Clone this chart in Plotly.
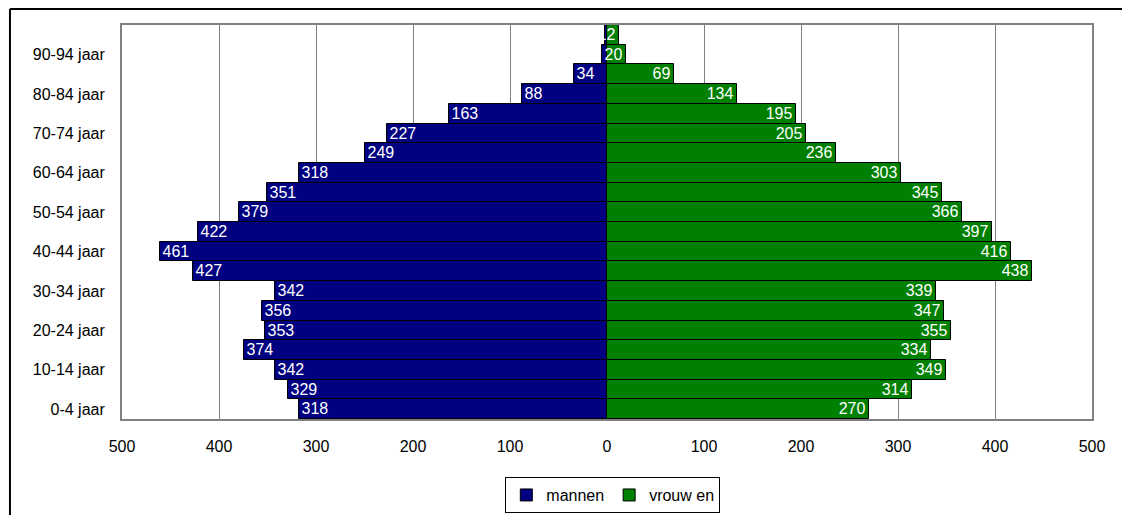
import plotly.graph_objects as go

# Age groups, bottom to top
age_groups = ["0-4 jaar", "5-9 jaar", "10-14 jaar", "15-19 jaar", "20-24 jaar",
              "25-29 jaar", "30-34 jaar", "35-39 jaar", "40-44 jaar", "45-49 jaar",
              "50-54 jaar", "55-59 jaar", "60-64 jaar", "65-69 jaar", "70-74 jaar",
              "75-79 jaar", "80-84 jaar", "85-89 jaar", "90-94 jaar", "95+ jaar"]
shown_groups = ["0-4 jaar", "10-14 jaar", "20-24 jaar", "30-34 jaar", "40-44 jaar",
                "50-54 jaar", "60-64 jaar", "70-74 jaar", "80-84 jaar", "90-94 jaar"]

mannen = [318, 329, 342, 374, 353, 356, 342, 427, 461, 422,
          379, 351, 318, 249, 227, 163, 88, 34, 5, 2]
vrouwen = [270, 314, 349, 334, 355, 347, 339, 438, 416, 397,
           366, 345, 303, 236, 205, 195, 134, 69, 20, 12]

x_ticks = [-500, -400, -300, -200, -100, 0, 100, 200, 300, 400, 500]
x_tick_labels = ["500", "400", "300", "200", "100", "0", "100", "200", "300", "400", "500"]

FONT = "Liberation Sans, Arial, sans-serif"
LABEL_SIZE = 16

# bars too thin to carry a readable label get none
men_text = [str(v) if v >= 10 else "" for v in mannen]
women_text = [str(v) for v in vrouwen]

fig = go.Figure()
fig.add_trace(go.Bar(
    y=age_groups, x=[-v for v in mannen], orientation="h", name="mannen",
    marker=dict(color="#000080", line=dict(color="black", width=1)),
    text=men_text, textposition="inside", insidetextanchor="end", textangle=0,
    textfont=dict(color="white", size=LABEL_SIZE, family=FONT), cliponaxis=False,
    hoverinfo="skip",
))
fig.add_trace(go.Bar(
    y=age_groups, x=vrouwen, orientation="h", name="vrouw en",
    marker=dict(color="#008000", line=dict(color="black", width=1)),
    text=women_text, textposition="inside", insidetextanchor="end", textangle=0,
    textfont=dict(color="white", size=LABEL_SIZE, family=FONT), cliponaxis=False,
    hoverinfo="skip",
))

fig.update_layout(
    width=1122, height=515,
    barmode="relative", bargap=0,
    plot_bgcolor="white", paper_bgcolor="white",
    font=dict(family=FONT, size=16, color="black"),
    margin=dict(l=122, r=30, t=25, b=96, autoexpand=False),
    uniformtext=dict(minsize=LABEL_SIZE, mode="show"),
    legend=dict(orientation="h", x=0.506, xanchor="center", y=-0.193, yanchor="middle",
                bordercolor="black", borderwidth=1, bgcolor="white",
                font=dict(size=16), traceorder="normal", itemwidth=30,
                tracegroupgap=0),
    showlegend=True,
)
fig.update_xaxes(
    range=[-500, 500], tickvals=x_ticks, ticktext=x_tick_labels,
    showgrid=True, gridcolor="#808080", gridwidth=1, zeroline=False,
    showline=True, linecolor="#808080", linewidth=2, mirror=True,
    ticks="", tickfont=dict(size=16), ticklabelstandoff=12, automargin=False,
)
fig.update_yaxes(
    categoryorder="array", categoryarray=age_groups,
    tickvals=shown_groups, ticktext=shown_groups,
    showgrid=False, zeroline=False,
    showline=True, linecolor="#808080", linewidth=2, mirror=True,
    ticks="", tickfont=dict(size=16), ticklabelstandoff=12, automargin=False,
)

# Outer chart frame
fig.add_shape(type="line", xref="paper", yref="paper",
              x0=-0.1155, x1=1.05, y0=1.0406, y1=1.0406,
              line=dict(color="black", width=2))
fig.add_shape(type="line", xref="paper", yref="paper",
              x0=-0.1155, x1=-0.1155, y0=1.0406, y1=-0.25,
              line=dict(color="black", width=2))

fig.write_html("out.html")
